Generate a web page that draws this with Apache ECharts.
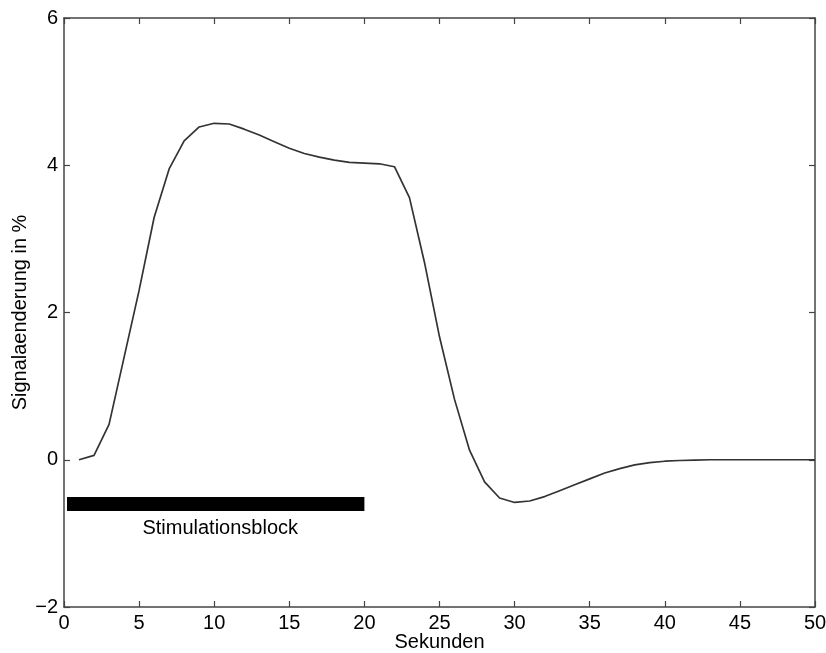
<!DOCTYPE html>
<html>
<head>
<meta charset="utf-8">
<script src="https://cdn.jsdelivr.net/npm/echarts@6/dist/echarts.min.js"></script>
<style>
html,body{margin:0;padding:0;background:#fff;}
#chart{width:826px;height:653px;}
</style>
</head>
<body>
<div id="chart"></div>
<script>
// Time in seconds
var seconds = [1,2,3,4,5,6,7,8,9,10,11,12,13,14,15,16,17,18,19,20,21,22,23,24,25,26,27,28,29,30,31,32,33,34,35,36,37,38,39,40,41,42,43,44,45,46,47,48,49,50];
// Signal change in %
var signal = [0,0.06,0.48,1.39,2.30,3.29,3.95,4.33,4.52,4.57,4.56,4.49,4.41,4.32,4.23,4.16,4.11,4.07,4.04,4.03,4.02,3.98,3.56,2.68,1.67,0.82,0.13,-0.30,-0.52,-0.58,-0.56,-0.50,-0.42,-0.34,-0.26,-0.18,-0.12,-0.07,-0.04,-0.02,-0.01,-0.005,0,0,0,0,0,0,0,0];
// Stimulation block
var blockStart = 0.2, blockEnd = 20, blockLevel = -0.6;
var blockText = 'Stimulationsblock';
var blockTextPos = [10.4, -0.93];
// Axis ticks
var xMin = 0, xMax = 50, xStep = 5;
var yMin = -2, yMax = 6, yStep = 2;

var FONT = '"Liberation Sans", Arial, Helvetica, sans-serif';
var axisColor = '#444';
var textColor = '#000';

function axisCommon(showLabel, margin){
  return {
    axisLine:{show:true,onZero:false,lineStyle:{color:axisColor,width:1.5}},
    axisTick:{show:true,inside:true,length:6,lineStyle:{color:axisColor,width:1.2}},
    splitLine:{show:false},
    axisLabel:{show:showLabel,color:textColor,fontFamily:FONT,fontSize:20,margin:margin,
      formatter:function(v){return String(v).replace('-','\u2212');}}
  };
}

var chart = echarts.init(document.getElementById('chart'), null, {renderer:'canvas'});
var curve = seconds.map(function(t,i){return [t, signal[i]];});

var option = {
  animation:false,
  backgroundColor:'#fff',
  grid:{left:64,right:11,top:18,bottom:46,containLabel:false,outerBoundsMode:'none'},
  xAxis:[
    Object.assign({type:'value',position:'bottom',min:xMin,max:xMax,interval:xStep,
      name:'Sekunden',nameLocation:'middle',nameGap:25,nameMoveOverlap:false,
      nameTextStyle:{color:textColor,fontFamily:FONT,fontSize:20}}, axisCommon(true, 6)),
    Object.assign({type:'value',position:'top',min:xMin,max:xMax,interval:xStep}, axisCommon(false, 6))
  ],
  yAxis:[
    Object.assign({type:'value',position:'left',min:yMin,max:yMax,interval:yStep,
      name:'Signalaenderung in %',nameLocation:'middle',nameGap:34,nameMoveOverlap:false,
      nameTextStyle:{color:textColor,fontFamily:FONT,fontSize:20}}, axisCommon(true, 6)),
    Object.assign({type:'value',position:'right',min:yMin,max:yMax,interval:yStep}, axisCommon(false, 6))
  ],
  series:[
    {
      type:'line',
      data:curve,
      showSymbol:false,
      smooth:false,
      lineStyle:{color:'#333',width:1.7},
      xAxisIndex:0,yAxisIndex:0,
      z:3
    },
    {
      type:'line',
      data:[[blockStart,blockLevel],[blockEnd,blockLevel]],
      showSymbol:false,
      lineStyle:{color:'#000',width:14,cap:'butt'},
      xAxisIndex:0,yAxisIndex:0,
      z:4
    },
    {
      type:'scatter',
      data:[blockTextPos],
      symbolSize:1,
      itemStyle:{opacity:0},
      label:{show:true,position:'inside',formatter:blockText,color:textColor,
        fontFamily:FONT,fontSize:20,textBorderWidth:0,opacity:1},
      xAxisIndex:0,yAxisIndex:0,
      silent:true
    }
  ]
};
chart.setOption(option);
</script>
</body>
</html>
